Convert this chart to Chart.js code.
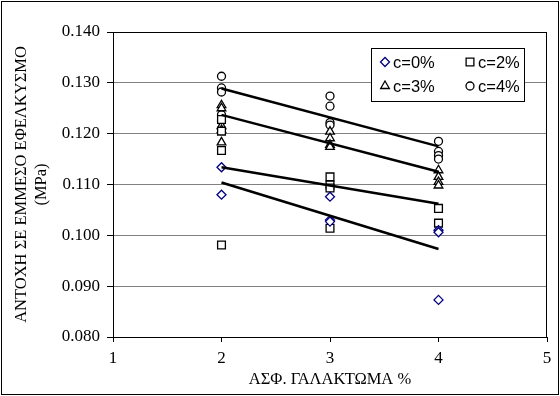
<!DOCTYPE html>
<html>
<head>
<meta charset="utf-8">
<script src="https://cdn.jsdelivr.net/npm/chart.js@4/dist/chart.umd.min.js"></script>
<style>
  html, body { margin: 0; padding: 0; background: #fff; }
  #wrap { width: 560px; height: 396px; }
</style>
</head>
<body>
<div id="wrap"><canvas id="mychart" width="560" height="396"></canvas></div>
<script>
// values
var seriesLabels = ['c=0%', 'c=2%', 'c=3%', 'c=4%'];
var xLevels = [2, 3, 4];
var c0 = [[0.1134, 0.1080], [0.1076, 0.1030, 0.1027], [0.1010, 0.1006, 0.0873]];
var c2 = [[0.1228, 0.1205, 0.1167, 0.0981], [0.1115, 0.1099, 0.1093, 0.1014], [0.1053, 0.1024]];
var c3 = [[0.1256, 0.1250, 0.1215, 0.1207, 0.1183], [0.1204, 0.1191, 0.1178, 0.1174], [0.1128, 0.1115, 0.1105, 0.1098]];
var c4 = [[0.1313, 0.1290, 0.1282, 0.1237, 0.1225], [0.1274, 0.1254, 0.1222, 0.1217], [0.1185, 0.1165, 0.1157, 0.1150]];

// trend lines (end points at x = 2 and x = 4)
var trendX = [2, 4];
var t0 = [0.1104, 0.0973];
var t2 = [0.1134, 0.1062];
var t3 = [0.1237, 0.1125];
var t4 = [0.1289, 0.1175];

var yTicks = [0.080, 0.090, 0.100, 0.110, 0.120, 0.130, 0.140];
var xTicks = [1, 2, 3, 4, 5];

function toPoints(groups) {
    var pts = [];
    for (var i = 0; i < groups.length; i++) {
        for (var j = 0; j < groups[i].length; j++) {
            pts.push({ x: xLevels[i], y: groups[i][j] });
        }
    }
    return pts;
}

function trend(vals) {
    return trendX.map(function (x, i) { return { x: x, y: vals[i] }; });
}

var styles = [
    { pointStyle: 'rectRot', color: '#000080', radius: 4.5 },
    { pointStyle: 'rect', color: '#000000', radius: 5.5 },
    { pointStyle: 'triangle', color: '#000000', radius: 5 },
    { pointStyle: 'circle', color: '#000000', radius: 4 }
];
var groups = [c0, c2, c3, c4];
var trends = [t0, t2, t3, t4];

var datasets = [];
// lines first so they sit on top of the markers
for (var k = 0; k < trends.length; k++) {
    datasets.push({
        type: 'line',
        label: 'trend ' + seriesLabels[k],
        data: trend(trends[k]),
        borderColor: '#000',
        borderWidth: 2.5,
        pointRadius: 0,
        fill: false
    });
}
for (var s = 0; s < groups.length; s++) {
    datasets.push({
        type: 'scatter',
        label: seriesLabels[s],
        data: toPoints(groups[s]),
        pointStyle: styles[s].pointStyle,
        pointRadius: styles[s].radius,
        pointHoverRadius: styles[s].radius,
        borderColor: styles[s].color,
        backgroundColor: '#fff',
        pointBorderWidth: 1.3
    });
}

// frame, plot border and the boxed legend
var decor = {
    id: 'decor',
    beforeDraw: function (chart) {
        var ctx = chart.ctx;
        ctx.save();
        ctx.fillStyle = '#fff';
        ctx.fillRect(0, 0, chart.width, chart.height);
        ctx.restore();
    },
    afterDraw: function (chart) {
        var ctx = chart.ctx;
        var a = chart.chartArea;
        ctx.save();
        ctx.strokeStyle = '#000';
        ctx.lineWidth = 1;
        ctx.strokeRect(1.5, 1.5, chart.width - 3, chart.height - 3);
        ctx.strokeRect(Math.round(a.left) + 0.5, Math.round(a.top) + 0.5,
            Math.round(a.right - a.left) - 1, Math.round(a.bottom - a.top));

        // legend
        var bx = 371, by = 48, bw = 153, bh = 53;
        ctx.fillStyle = '#fff';
        ctx.fillRect(bx, by, bw, bh);
        ctx.strokeRect(bx + 0.5, by + 0.5, bw, bh);
        ctx.font = '16.5px "Liberation Sans", Arial, sans-serif';
        ctx.textBaseline = 'middle';
        ctx.textAlign = 'left';
        var cols = [385, 470], rows = [62, 86];
        for (var i = 0; i < seriesLabels.length; i++) {
            var cx = cols[i % 2], cy = rows[Math.floor(i / 2)];
            ctx.strokeStyle = styles[i].color;
            ctx.fillStyle = '#fff';
            ctx.lineWidth = 1.3;
            Chart.helpers.drawPoint(ctx, {
                pointStyle: styles[i].pointStyle,
                radius: styles[i].radius,
                rotation: 0,
                borderWidth: 1.3
            }, cx, cy);
            ctx.fillStyle = '#000';
            ctx.fillText(seriesLabels[i], cx + 8, cy + 1);
        }
        ctx.restore();
    }
};

var serif = '"Liberation Serif", "Times New Roman", serif';

new Chart(document.getElementById('mychart'), {
    type: 'scatter',
    data: { datasets: datasets },
    options: {
        responsive: false,
        animation: false,
        events: [],
        layout: { padding: { left: 0, top: 32, right: 13, bottom: 0 } },
        plugins: {
            legend: { display: false },
            tooltip: { enabled: false }
        },
        scales: {
            x: {
                type: 'linear',
                min: 1,
                max: 5,
                afterBuildTicks: function (axis) {
                    axis.ticks = xTicks.map(function (v) { return { value: v }; });
                },
                afterFit: function (axis) { axis.height = 59; },
                grid: {
                    drawOnChartArea: false,
                    drawTicks: true,
                    tickLength: 5,
                    tickColor: '#000'
                },
                border: { color: '#000', width: 1 },
                ticks: {
                    color: '#000',
                    font: { family: serif, size: 17 },
                    padding: 6,
                    maxRotation: 0
                },
                title: {
                    display: true,
                    text: 'ΑΣΦ. ΓΑΛΑΚΤΩΜΑ %',
                    color: '#000',
                    font: { family: serif, size: 16.5 },
                    padding: { top: 0, bottom: 6 }
                }
            },
            y: {
                type: 'linear',
                min: 0.080,
                max: 0.140,
                afterBuildTicks: function (axis) {
                    axis.ticks = yTicks.map(function (v) { return { value: v }; });
                },
                afterFit: function (axis) { axis.width = 113; },
                grid: {
                    color: '#808080',
                    lineWidth: 1,
                    tickLength: 6,
                    tickColor: '#000'
                },
                border: { color: '#000', width: 1 },
                ticks: {
                    color: '#000',
                    font: { family: serif, size: 17 },
                    padding: 7,
                    callback: function (v) { return Number(v).toFixed(3); }
                },
                title: {
                    display: true,
                    text: ['ΑΝΤΟΧΗ ΣΕ ΕΜΜΕΣΟ ΕΦΕΛΚΥΣΜΟ', '(MPa)'],
                    color: '#000',
                    font: { family: serif, size: 16.5 },
                    padding: { top: 12, bottom: 0 }
                }
            }
        }
    },
    plugins: [decor]
});
</script>
</body>
</html>
